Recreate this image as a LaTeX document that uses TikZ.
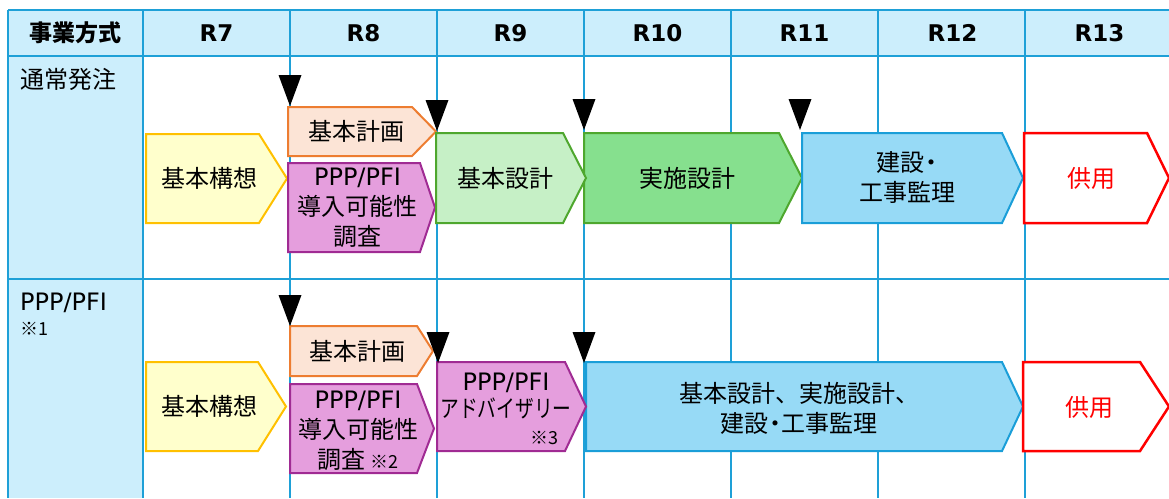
\documentclass[tikz,border=0pt]{standalone}
\usepackage{fontspec}
\setmainfont{DejaVu Sans}
\newfontfamily\jp{Noto Sans CJK JP}
\usetikzlibrary{positioning}
\definecolor{lineTable}{RGB}{30,160,215}
\definecolor{fillHead}{RGB}{204,238,252}
\definecolor{fillYellow}{RGB}{255,255,204}
\definecolor{lineYellow}{RGB}{255,192,0}
\definecolor{fillOrange}{RGB}{252,228,214}
\definecolor{lineOrange}{RGB}{237,125,49}
\definecolor{fillPurple}{RGB}{229,158,221}
\definecolor{linePurple}{RGB}{160,43,147}
\definecolor{fillLightGreen}{RGB}{198,240,198}
\definecolor{fillGreen}{RGB}{134,224,142}
\definecolor{lineGreen}{RGB}{78,167,46}
\definecolor{fillBlue}{RGB}{151,218,246}
\definecolor{lineBlue}{RGB}{26,158,216}
\definecolor{lineRed}{RGB}{255,0,0}

% 矢羽根: 左端, 角, 先端, 上端, 下端
\newcommand{\phasebox}[6]{%
  \filldraw[#1] (#2,#5) -- (#3,#5) -- (#4,{(#5+#6)/2}) -- (#3,#6) -- (#2,#6) -- cycle;}
% 着手の目印
\newcommand{\milestone}[2]{%
  \fill ({#1-11.5},{#2-31}) -- ({#1+11.5},{#2-31}) -- (#1,#2) -- cycle;}
\newcommand{\en}[1]{{\rmfamily #1}}
\newcommand{\nakaten}{\makebox[13pt][c]{・}}

\begin{document}
\begin{tikzpicture}[x=1pt, y=-1pt,
    grid/.style={draw=lineTable, line width=1.3pt},
    txt/.style={font=\jp\fontsize{24}{30}\selectfont, align=center, inner sep=0pt},
    head/.style={font=\bfseries\fontsize{23}{28}\selectfont, inner sep=0pt},
    note/.style={font=\jp\fontsize{18}{20}\selectfont, inner sep=0pt},
    yellowbox/.style={fill=fillYellow, draw=lineYellow, line width=2pt},
    orangebox/.style={fill=fillOrange, draw=lineOrange, line width=2pt},
    purplebox/.style={fill=fillPurple, draw=linePurple, line width=2pt},
    lgreenbox/.style={fill=fillLightGreen, draw=lineGreen, line width=2pt},
    greenbox/.style={fill=fillGreen, draw=lineGreen, line width=2pt},
    bluebox/.style={fill=fillBlue, draw=lineBlue, line width=2pt},
    redbox/.style={fill=white, draw=lineRed, line width=2.5pt}]
    \useasboundingbox (0,0) rectangle (1169,498);
    \clip (0,0) rectangle (1169,498);

    % 表
    \fill[fillHead] (8,10) rectangle (1169,56);
    \fill[fillHead] (8,56) rectangle (143,498);
    \draw[grid] (8,10) -- (1169,10);
    \draw[grid, line width=2.5pt] (8,56) -- (1169,56);
    \draw[grid] (8,279) -- (1169,279);
    \foreach \x in {8,143,290,437,584,731,878,1025}
        \draw[grid] (\x,10) -- (\x,498);

    \node[head, font=\jp\bfseries\fontsize{23}{28}\selectfont] (hHoushiki) at (75.5,33) {事業方式};
    \foreach \x/\r in {216.5/7, 363.5/8, 510.5/9, 657.5/10, 804.5/11, 952.5/12, 1099.5/13}
        \node[head] (hR\r) at (\x,33) {R\r};

    \node[txt, anchor=west] (lblTsujo) at (20,79) {通常発注};
    \node[txt, anchor=west] (lblPPP) at (20,303) {\en{PPP/PFI}};
    \node[note, anchor=west] (note1) at (20,329) {※1};

    % 通常発注
    \phasebox{yellowbox}{146}{259}{287}{134}{223}
    \phasebox{orangebox}{288}{412}{436}{107}{156}
    \phasebox{purplebox}{288}{420}{435}{163}{252}
    \phasebox{greenbox}{584}{779}{802}{133}{223}
    \phasebox{lgreenbox}{436}{563}{586}{133}{223}
    \phasebox{bluebox}{802}{1002}{1023}{133}{223}
    \phasebox{redbox}{1024}{1147}{1169}{133}{223}

    \node[txt] (kousouA) at (209.5,178) {基本構想};
    \node[txt] (keikakuA) at (356,131) {基本計画};
    \node[txt] (chousaA) at (357.5,207.5) {\en{PPP/PFI}\\導入可能性\\調査};
    \node[txt] (kihonA) at (505,178) {基本設計};
    \node[txt] (jisshiA) at (687,178) {実施設計};
    \node[txt] (kensetsuA) at (907,178) {建設\nakaten\\工事監理};
    \node[txt, text=lineRed] (kyouyouA) at (1091,178) {供用};

    \milestone{290}{106}
    \milestone{437}{131}
    \milestone{584}{130}
    \milestone{800}{130}

    % PPP/PFI
    \phasebox{yellowbox}{146}{258}{286}{362}{451}
    \phasebox{orangebox}{290}{417}{433}{326}{376}
    \phasebox{purplebox}{290}{417}{434}{384}{473}
    \phasebox{bluebox}{586}{1002}{1023}{362}{451}
    \phasebox{purplebox}{437}{565}{586}{362}{451}
    \phasebox{redbox}{1023}{1140}{1169}{362}{451}

    \node[txt] (kousouB) at (209,406) {基本構想};
    \node[txt] (keikakuB) at (357.5,351) {基本計画};
    \node[txt] (chousaB) at (358,431) {\en{PPP/PFI}\\導入可能性\\調査 {\fontsize{18}{20}\selectfont ※2}};
    \node[txt, font=\jp\fontsize{24}{27}\selectfont] (advisB) at (506,396.5) {\en{PPP/PFI}\\\scalebox{0.78}[1]{アドバイザリー}};
    \node[note, anchor=east] (note3) at (559,438) {※3};
    \node[txt] (ikkatsuB) at (799,408) {基本設計、実施設計、\\建設\nakaten 工事監理};
    \node[txt, text=lineRed] (kyouyouB) at (1089,407) {供用};

    \milestone{290}{326}
    \milestone{438}{363}
    \milestone{584}{363}
\end{tikzpicture}
\end{document}
